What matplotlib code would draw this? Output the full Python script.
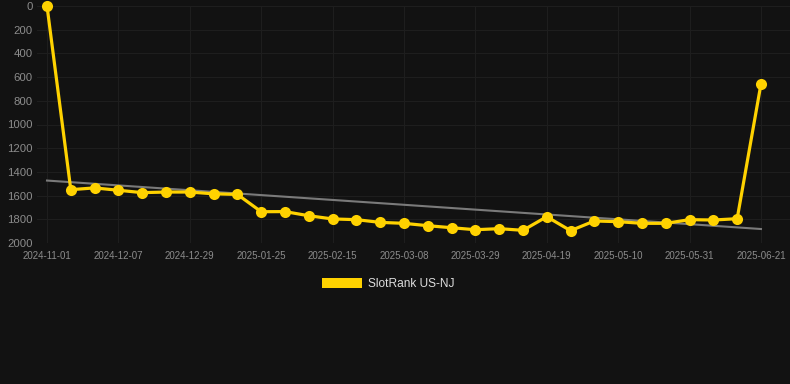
import matplotlib.pyplot as plt
from matplotlib.patches import Patch

# weekly snapshots (categorical axis, label every 3rd point)
dates = ['2024-11-01', '2024-11-16', '2024-11-30', '2024-12-07', '2024-12-14',
         '2024-12-21', '2024-12-29', '2025-01-04', '2025-01-11', '2025-01-25',
         '2025-02-01', '2025-02-08', '2025-02-15', '2025-02-22', '2025-03-01',
         '2025-03-08', '2025-03-15', '2025-03-22', '2025-03-29', '2025-04-05',
         '2025-04-12', '2025-04-19', '2025-04-26', '2025-05-03', '2025-05-10',
         '2025-05-17', '2025-05-24', '2025-05-31', '2025-06-07', '2025-06-14',
         '2025-06-21']
rank = [0, 1550, 1535, 1555, 1575, 1570, 1570, 1585, 1590, 1736,
        1735, 1770, 1797, 1803, 1826, 1834, 1854, 1871, 1888, 1879,
        1893, 1778, 1896, 1814, 1820, 1834, 1834, 1803, 1806, 1795,
        658]
trend = [1473, 1882]  # trend line at first and last point
series_name = 'SlotRank US-NJ'

bg = '#121212'
yellow = '#ffd200'
plt.rcParams['font.family'] = ['Liberation Sans', 'DejaVu Sans']

fig = plt.figure(figsize=(7.9, 3.84), dpi=100, facecolor=bg)
ax = fig.add_axes([37/790, 141/384, 753/790, 237/384], facecolor=bg)

x = list(range(len(dates)))
ax.plot([x[0], x[-1]], trend, color='#7a7a7a', lw=1.5, zorder=2)
ax.plot(x, rank, color=yellow, lw=2.3, marker='o', markersize=8,
        markeredgewidth=0, zorder=3, clip_on=False)

ax.set_ylim(2000, 0)
ax.set_yticks(range(0, 2001, 200))
ax.set_xlim(-0.42, 31.22)
ax.set_xticks(x[::3])
ax.set_xticklabels(dates[::3])

ax.grid(True, color='#1e1e1e', lw=0.8)
ax.set_axisbelow(True)
for s in ax.spines.values():
    s.set_visible(False)
ax.tick_params(axis='y', length=0, pad=3, labelsize=8.2, labelcolor='#8c8c8c')
ax.tick_params(axis='x', length=0, pad=6, labelsize=7, labelcolor='#8c8c8c')

leg = fig.legend(handles=[Patch(facecolor=yellow, edgecolor='none', label=series_name)],
                 loc='center', bbox_to_anchor=(0.492, 0.26), frameon=False,
                 fontsize=8.6, handlelength=3.35, handleheight=0.85, handletextpad=0.5)
for t in leg.get_texts():
    t.set_color('#dddddd')

fig.savefig('out.png', dpi=100, facecolor=bg)
